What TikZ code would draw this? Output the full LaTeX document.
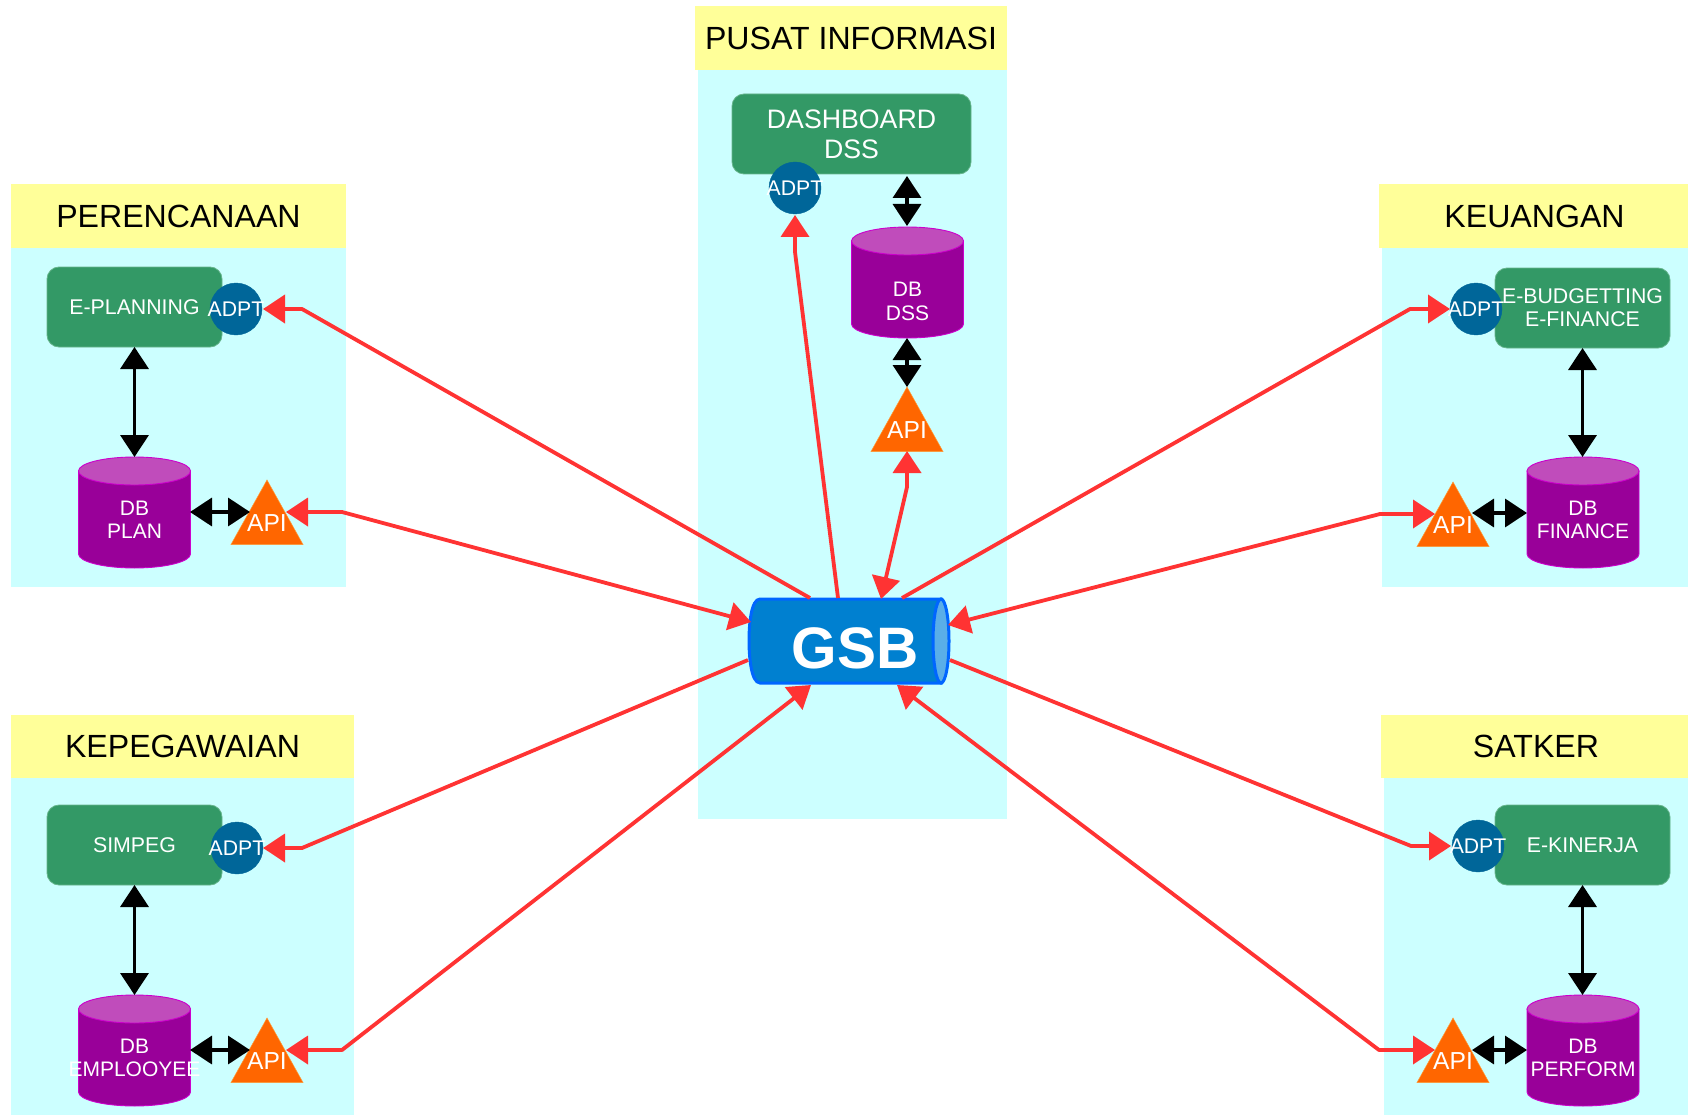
\documentclass[tikz,border=0pt]{standalone}
\usepackage{fontspec}
\setmainfont{Liberation Sans}
\usetikzlibrary{arrows.meta}
\definecolor{cyanbg}{HTML}{CCFFFF}
\definecolor{yellowbg}{HTML}{FFFF99}
\definecolor{appgreen}{HTML}{339966}
\definecolor{appedge}{HTML}{66B58C}
\definecolor{adptblue}{HTML}{006699}
\definecolor{dbpurple}{HTML}{990099}
\definecolor{dbtop}{HTML}{C04CBB}
\definecolor{dbedge}{HTML}{CC00CC}
\definecolor{apiorange}{HTML}{FF6600}
\definecolor{apiedge}{HTML}{FF9933}
\definecolor{redline}{HTML}{FF3333}
\definecolor{gsbfill}{HTML}{0080D0}
\definecolor{gsbedge}{HTML}{0066FF}
\definecolor{gsbcap}{HTML}{5AAEE8}
\tikzset{
  x=1pt,y=-1pt,
  panel/.style={fill=cyanbg,draw=none},
  titlebox/.style={fill=yellowbg,draw=none,font=\fontsize{32.1}{36}\selectfont,text=black,inner sep=0pt},
  appbox/.style={draw=appedge,line width=0.8pt,fill=appgreen,rounded corners=12pt,text=white,align=center,inner sep=0pt,font=\fontsize{21.3}{23}\selectfont},
  bigapp/.style={appbox,font=\fontsize{26.7}{30}\selectfont},
  adptnode/.style={circle,fill=adptblue,draw=adptblue,minimum size=52pt,inner sep=0pt,text=white,font=\fontsize{21.2}{24}\selectfont},
  dblabel/.style={text=white,align=center,inner sep=0pt,font=\fontsize{21}{23.5}\selectfont},
  apilabel/.style={text=white,inner sep=0pt,font=\fontsize{24.6}{27}\selectfont},
  blackarrow/.style={line width=3.6pt,black,{Triangle[length=22pt,width=28pt]}-{Triangle[length=22pt,width=28pt]}},
  redarrow/.style={line width=3.8pt,redline,line join=round,-{Triangle[length=22pt,width=28pt]}},
  reddouble/.style={line width=3.8pt,redline,line join=round,{Triangle[length=22pt,width=28pt]}-{Triangle[length=22pt,width=28pt]}},
}
% app: name, x1,y1,x2,y2, style, text
\newcommand{\appnode}[7]{%
  \node[#6,minimum width={(#4-#2)*1pt},minimum height={(#5-#3)*1pt}] (#1) at ({(#2+#4)/2},{(#3+#5)/2}) {#7};
}
% database: [text offset], name, centre x, top y, text
\newcommand{\dbnode}[5][0]{%
  \path[fill=dbpurple,draw=dbedge,line width=0.9pt] ({#3-56},{#4+14}) -- ({#3+56},{#4+14}) -- ({#3+56},{#4+97})
     .. controls ({#3+56},{#4+104.7}) and ({#3+31},{#4+111}) .. (#3,{#4+111})
     .. controls ({#3-31},{#4+111}) and ({#3-56},{#4+104.7}) .. ({#3-56},{#4+97}) -- cycle;
  \path[fill=dbtop,draw=dbedge,line width=0.9pt] (#3,{#4+14}) ellipse[x radius=56,y radius=14];
  \node[dblabel] (#2) at (#3,{#4+63+#1}) {#5};
}
% api: name, apex x, apex y
\newcommand{\apinode}[3]{%
  \path[fill=apiorange,draw=apiedge,line width=0.5pt] (#2,#3) -- ({#2+36},{#3+64.5}) -- ({#2-36},{#3+64.5}) -- cycle;
  \node[apilabel] (#1) at (#2,{#3+43}) {API};
}
\begin{document}
\begin{tikzpicture}
\useasboundingbox (0,0) rectangle (1688,1115);
\fill[white] (0,0) rectangle (1688,1115);
% panels
\fill[panel] (698,69) rectangle (1007,819);
\fill[panel] (11,247) rectangle (346,587);
\fill[panel] (1382,247) rectangle (1688,587);
\fill[panel] (11,778) rectangle (354,1115);
\fill[panel] (1384,778) rectangle (1688,1115);
\node[titlebox,minimum width=312pt,minimum height=64pt] (tpusat) at (851,38) {PUSAT INFORMASI};
\node[titlebox,minimum width=335pt,minimum height=64pt] (tplan) at (178.5,216) {PERENCANAAN};
\node[titlebox,minimum width=309pt,minimum height=64pt,text width=309pt,align=center] (tkeu) at (1533.5,216) {\hspace*{2pt}KEUANGAN};
\node[titlebox,minimum width=343pt,minimum height=63pt] (tpeg) at (182.5,746.5) {KEPEGAWAIAN};
\node[titlebox,minimum width=307pt,minimum height=63pt,text width=307pt,align=center] (tsat) at (1534.5,746.5) {\hspace*{3pt}SATKER};
% apps
\appnode{dss}{732}{94}{971}{174}{bigapp}{DASHBOARD\\DSS}
\appnode{plan}{47}{267}{222}{347}{appbox}{E-PLANNING}
\appnode{fin}{1495}{268}{1670}{348}{appbox}{E-BUDGETTING\\E-FINANCE}
\appnode{peg}{47}{805}{222}{885}{appbox}{SIMPEG}
\appnode{kin}{1495}{805}{1670}{885}{appbox}{E-KINERJA}
% adapters
\node[adptnode] (adss) at (795,188) {\makebox[0pt][c]{ADPT}};
\node[adptnode] (aplan) at (236,309) {\makebox[0pt][c]{ADPT}};
\node[adptnode] (afin) at (1476,309) {\makebox[0pt][c]{ADPT}};
\node[adptnode] (apeg) at (237,848) {\makebox[0pt][c]{ADPT}};
\node[adptnode] (akin) at (1478,846) {\makebox[0pt][c]{ADPT}};
% databases
\dbnode[11.5]{ddss}{907.5}{227}{DB\\DSS}
\dbnode{dplan}{134.5}{457}{DB\\PLAN}
\dbnode{dfin}{1583}{457}{DB\\FINANCE}
\dbnode{dpeg}{134.5}{995}{DB\\EMPLOOYEE}
\dbnode{dkin}{1583}{995}{DB\\PERFORM}
% APIs
\apinode{apidss}{907}{387}
\apinode{apiplan}{267}{480}
\apinode{apifin}{1453}{482}
\apinode{apipeg}{267}{1018}
\apinode{apikin}{1453}{1018}
% GSB
\path[fill=gsbfill,draw=gsbedge,line width=3pt] (941,599) -- (760,599) .. controls (751,599) and (749,625) .. (749,640.5) .. controls (749,656) and (751,683) .. (760,683) -- (941,683) -- cycle;
\path[fill=gsbcap,draw=gsbedge,line width=3pt] (941,641) ellipse[x radius=8,y radius=42];
\node[text=white,inner sep=0pt,font=\bfseries\fontsize{58.5}{60}\selectfont] (gsb) at (855,648) {GSB};
% connector anchors
\coordinate (g1) at (810,598); \coordinate (g2) at (838,598); \coordinate (g3) at (902,598);
\coordinate (g4) at (881,599); \coordinate (g5) at (751,622); \coordinate (g6) at (948,625);
\coordinate (g7) at (748,660); \coordinate (g8) at (950,660); \coordinate (g9) at (811,685); \coordinate (g10) at (897,685);
\coordinate (bplan) at (302,309); \coordinate (tipplan) at (263,309);
\coordinate (bapiplan) at (342,512); \coordinate (tipapiplan) at (286,512);
\coordinate (bfin) at (1410,309); \coordinate (tipfin) at (1450,309);
\coordinate (bapifin) at (1380,514); \coordinate (tipapifin) at (1435,514);
\coordinate (bpeg) at (302,848); \coordinate (tippeg) at (263,848);
\coordinate (bapipeg) at (342,1050); \coordinate (tipapipeg) at (286,1050);
\coordinate (bkin) at (1411,846); \coordinate (tipkin) at (1451,846);
\coordinate (bapikin) at (1379,1050); \coordinate (tipapikin) at (1435,1050);
\coordinate (bdss) at (795,252); \coordinate (tipdss) at (795,215);
\coordinate (bapidss) at (907,487); \coordinate (tipapidss) at (907,451);
% black
\draw[blackarrow] (907,176) -- (907,226);
\draw[blackarrow] (907,338) -- (907,387);
\draw[blackarrow] (134.5,347) -- (134.5,457);
\draw[blackarrow] (1582.5,348) -- (1582.5,457);
\draw[blackarrow] (134.5,885) -- (134.5,995);
\draw[blackarrow] (1582.5,885) -- (1582.5,995);
\draw[blackarrow] (190,512) -- (250,512);
\draw[blackarrow] (1472,513) -- (1527,513);
\draw[blackarrow] (190,1050) -- (250,1050);
\draw[blackarrow] (1472,1050) -- (1527,1050);
% red
\draw[redarrow] (g1) -- (bplan) -- (tipplan);
\draw[redarrow] (g2) -- (bdss) -- (tipdss);
\draw[redarrow] (g3) -- (bfin) -- (tipfin);
\draw[redarrow] (g7) -- (bpeg) -- (tippeg);
\draw[redarrow] (g8) -- (bkin) -- (tipkin);
\draw[reddouble] (g4) -- (bapidss) -- (tipapidss);
\draw[reddouble] (g5) -- (bapiplan) -- (tipapiplan);
\draw[reddouble] (g6) -- (bapifin) -- (tipapifin);
\draw[reddouble] (g9) -- (bapipeg) -- (tipapipeg);
\draw[reddouble] (g10) -- (bapikin) -- (tipapikin);
\end{tikzpicture}
\end{document}
